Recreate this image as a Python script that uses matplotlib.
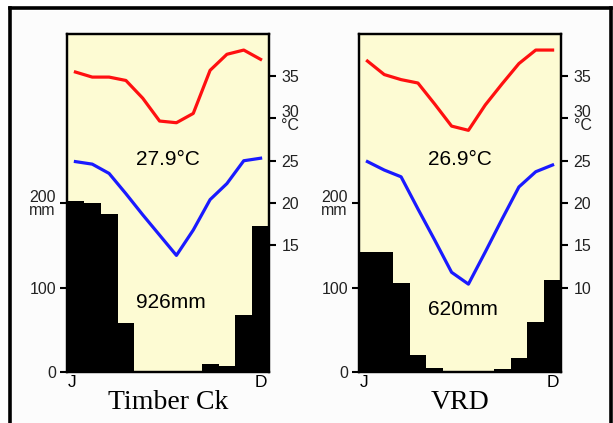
import matplotlib
matplotlib.use("Agg")
import matplotlib.pyplot as plt
from matplotlib.lines import Line2D
import numpy as np

# %%
months = ["J", "F", "M", "A", "M", "J", "J", "A", "S", "O", "N", "D"]

tc_rain = [202, 200, 187, 58, 0, 0, 0, 0, 9, 7, 67, 173]
tc_tmax = [35.5, 34.9, 34.9, 34.5, 32.4, 29.7, 29.5, 30.6, 35.7, 37.6, 38.1, 37.0]
tc_tmin = [24.9, 24.6, 23.5, 21.1, 18.6, 16.2, 13.8, 16.8, 20.4, 22.3, 25.0, 25.3]

vrd_rain = [142, 142, 105, 20, 5, 1, 1, 1, 4, 16, 59, 109]
vrd_tmax = [36.8, 35.2, 34.6, 34.2, 31.7, 29.1, 28.6, 31.6, 34.1, 36.5, 38.1, 38.1]
vrd_tmin = [24.9, 23.9, 23.1, 19.3, 15.6, 11.8, 10.4, 14.2, 18.1, 21.9, 23.7, 24.5]

stations = ["Timber Ck", "VRD"]
mean_temp = ["27.9°C", "26.9°C"]
annual_rain = ["926mm", "620mm"]
temp_ticks = [[15, 20, 25, 30, 35], [10, 15, 20, 25, 30, 35]]

# %%
plt.rcParams["font.family"] = ["Liberation Sans", "DejaVu Sans"]
fig = plt.figure(figsize=(6.13, 4.23), dpi=100)
fig.patch.set_facecolor("white")

# outer frame (top, left, right)
fig.patches.append(
    plt.Rectangle((0.019, 0.0), 0.975, 0.975, transform=fig.transFigure,
                  facecolor="#fcfcfc", edgecolor="none", zorder=-5)
)
lw = 2.6
fig.add_artist(Line2D([0.0171, 0.9967], [0.980, 0.980], color="black", lw=lw))
fig.add_artist(Line2D([0.0171, 0.0171], [0.0, 0.980], color="black", lw=lw))
fig.add_artist(Line2D([0.9967, 0.9967], [0.0, 0.980], color="black", lw=lw))

lefts = [67 / 613, 359 / 613]
data = [(tc_rain, tc_tmax, tc_tmin), (vrd_rain, vrd_tmax, vrd_tmin)]
x = np.arange(12) + 0.5
edges = np.arange(13)

for i, (rain, tmax, tmin) in enumerate(data):
    ax = fig.add_axes([lefts[i], 1 - 372 / 423, 202 / 613, 338 / 423])
    ax.set_facecolor("#fdfbd3")
    ax.stairs(rain, edges, fill=True, color="black", baseline=0)
    ax.set_xlim(0, 12)
    ax.set_ylim(0, 400)
    ax.set_xticks([x[0] - 0.2, x[-1]])
    ax.set_xticklabels(["J", "D"], fontsize=12.5)
    ax.tick_params(axis="x", length=0, pad=2)
    ax.set_yticks([0, 100, 200])
    ax.set_yticklabels(["0", "100", "200\nmm"], fontsize=11.5, color="#222222",
                       linespacing=0.85)
    ax.tick_params(axis="y", length=5, width=1.5, pad=3, direction="out")
    for s in ax.spines.values():
        s.set_linewidth(1.6)

    ax2 = ax.twinx()
    ax2.plot(x, tmax, color="#ff1010", lw=2.3)
    ax2.plot(x, tmin, color="#1a1aff", lw=2.3)
    ax2.set_ylim(0, 40)
    ax2.set_yticks(temp_ticks[i])
    ax2.set_yticklabels([("30\n°C" if t == 30 else str(t)) for t in temp_ticks[i]],
                        fontsize=11.5, color="#222222", linespacing=0.85)
    ax2.tick_params(axis="y", length=5, width=1.5, pad=4, direction="out")
    for s in ax2.spines.values():
        s.set_linewidth(1.6)

    ax.text(6, 251, mean_temp[i], ha="center", va="center", fontsize=15)
    ax.text(6.2, 82 if i == 0 else 74, annual_rain[i], ha="center", va="center", fontsize=15)
    fig.text(lefts[i] + 101 / 613, 1 - 402 / 423, stations[i], ha="center", va="center",
             fontsize=20, family=["Liberation Serif", "DejaVu Serif"])

plt.savefig("out.png", dpi=100)
